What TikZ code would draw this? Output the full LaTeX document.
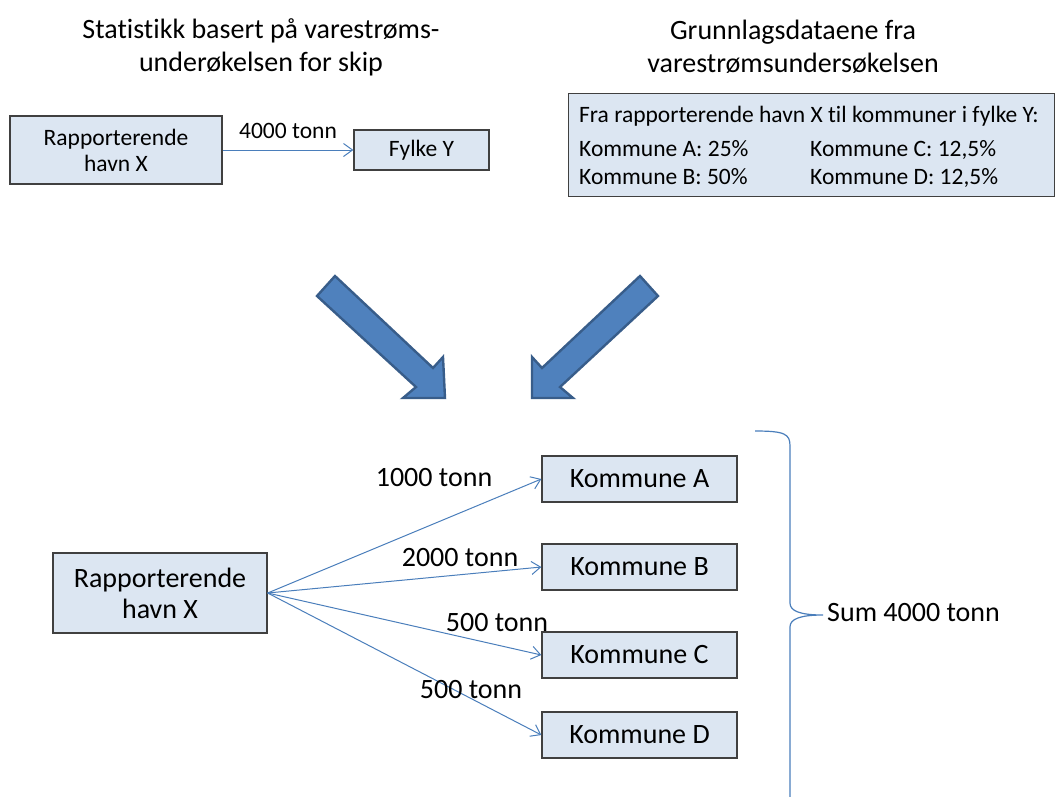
\documentclass[tikz,border=0pt]{standalone}
\usepackage{fontspec}
\setmainfont{Carlito}[Ligatures=NoCommon]
\usetikzlibrary{arrows.meta}
\definecolor{boxfill}{HTML}{DCE6F2}
\definecolor{boxdraw}{HTML}{404040}
\definecolor{linkblue}{HTML}{4A7EBB}
\definecolor{bigfill}{HTML}{4F81BD}
\definecolor{bigdraw}{HTML}{385D8A}
\tikzset{
  sbox/.style={draw=boxdraw, fill=boxfill, line width=1.3pt, inner sep=0pt, align=center},
  link/.style={draw=linkblue, line width=1pt, -{Straight Barb[length=9pt,width=13pt,line width=1pt]}},
  bigarrow/.style={fill=bigfill, draw=bigdraw, line width=2.4pt, line join=miter},
  fsmall/.style={font=\fontsize{23.5}{26}\selectfont},
  flarge/.style={font=\fontsize{28}{31}\selectfont},
  ftitle/.style={font=\fontsize{28}{33}\selectfont, align=center},
  plain/.style={inner sep=0pt}
}
\begin{document}
\begin{tikzpicture}[x=1pt, y=-1pt]
\useasboundingbox (0,0) rectangle (1055,796);
\clip (0,0) rectangle (1055,796);

% titles
\node[ftitle, plain] (t1) at (261,47) {Statistikk basert på varestrøms-\\underøkelsen for skip};
\node[ftitle, plain] (t2) at (793,47) {Grunnlagsdataene fra\\varestrømsundersøkelsen};

% top left
\node[sbox, fsmall, minimum width=212pt, minimum height=68pt] (h1) at (116,150) {Rapporterende\\havn X};
\node[sbox, fsmall, minimum width=135pt, minimum height=40pt] (fy) at (421.5,150) {Fylke Y};
\draw[link] (h1.east) -- (fy.west);
\node[fsmall, plain] (l0) at (288,131) {4000 tonn};

% top right data box
\node[sbox, minimum width=486pt, minimum height=103pt, anchor=north west] (db) at (568,93) {};
\node[fsmall, plain, anchor=base west] (d0) at (579,122) {Fra rapporterende havn X til kommuner i fylke Y:};
\node[fsmall, plain, anchor=base west] (d1) at (579,156) {Kommune A: 25\%};
\node[fsmall, plain, anchor=base west] (d2) at (810,156) {Kommune C: 12,5\%};
\node[fsmall, plain, anchor=base west] (d3) at (579,184) {Kommune B: 50\%};
\node[fsmall, plain, anchor=base west] (d4) at (810,184) {Kommune D: 12,5\%};

% block arrows
\draw[bigarrow] (317,296) -- (335,276) -- (433,368) -- (443,357) -- (445,398) -- (403,398) -- (416,387) -- cycle;
\draw[bigarrow] (658,296) -- (640,276) -- (542,368) -- (532,357) -- (532,398) -- (573,398) -- (560,387) -- cycle;

% bottom
\node[sbox, flarge, minimum width=214pt, minimum height=80pt] (h2) at (160,593) {Rapporterende\\havn X};
\node[sbox, flarge, minimum width=195pt, minimum height=46pt] (ka) at (639.5,479) {Kommune A};
\node[sbox, flarge, minimum width=195pt, minimum height=46pt] (kb) at (639.5,567) {Kommune B};
\node[sbox, flarge, minimum width=195pt, minimum height=46pt] (kc) at (639.5,655) {Kommune C};
\node[sbox, flarge, minimum width=195pt, minimum height=46pt] (kd) at (639.5,735) {Kommune D};
\draw[link] (h2.east) -- (ka.west);
\draw[link] (h2.east) -- (kb.west);
\draw[link] (h2.east) -- (kc.west);
\draw[link] (h2.east) -- (kd.west);
\node[flarge, plain] (la) at (434,478) {1000 tonn};
\node[flarge, plain] (lb) at (460,558) {2000 tonn};
\node[flarge, plain] (lc) at (497,623) {500 tonn};
\node[flarge, plain] (ld) at (471,690) {500 tonn};

% brace
\coordinate (btop) at (755,431);
\coordinate (btip) at (823,615);
\draw[draw=linkblue, line width=1.2pt] (btop) .. controls (785,431) and (790,434) .. (790,446)
  -- (790,603) .. controls (790,611) and (800,615) .. (btip)
  .. controls (800,615) and (790,619) .. (790,627) -- (790,800);
\node[flarge, plain, anchor=west] (sum) at (827,613) {Sum 4000 tonn};
\end{tikzpicture}
\end{document}
